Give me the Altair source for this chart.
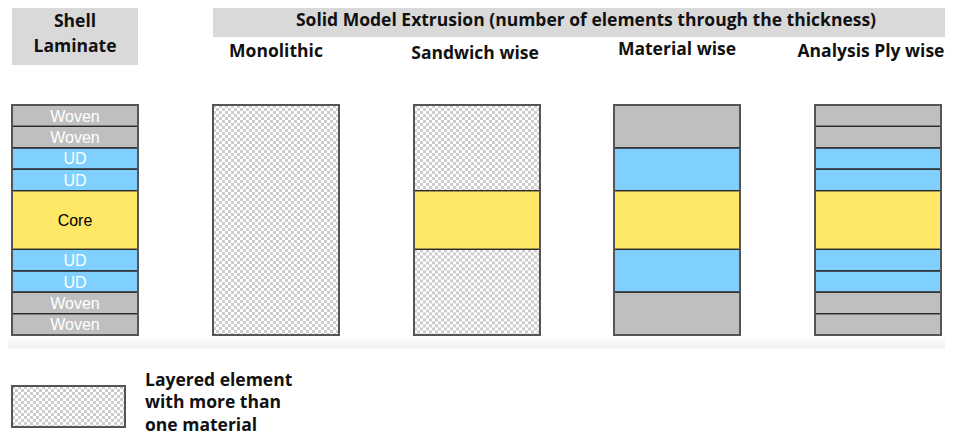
import altair as alt
import pandas as pd
import numpy as np

# ---------------- data ----------------
header_left = ["Shell", "Laminate"]
header_main = "Solid Model Extrusion (number of elements through the thickness)"
columns = ["Shell Laminate", "Monolithic", "Sandwich wise", "Material wise", "Analysis Ply wise"]
ply_names = ["Woven", "Woven", "UD", "UD", "Core", "UD", "UD", "Woven", "Woven"]
ply_thickness = [1, 1, 1, 1, 2.75, 1, 1, 1, 1]

# element groupings (number of plies per element, element material)
monolithic_groups = [9]
monolithic_materials = ["Mixed"]
sandwich_groups = [4, 1, 4]
sandwich_materials = ["Mixed", "Core", "Mixed"]
material_groups = [2, 2, 1, 2, 2]
material_materials = ["Woven", "UD", "Core", "UD", "Woven"]
analysis_groups = [1] * 9
analysis_materials = ply_names

legend_lines = ["Layered element", "with more than", "one material"]

# ---------------- layout / style ----------------
W, H = 937, 428
XD = [8, 8 + W]
YD = [8, 8 + H]
mat_color = {"Woven": "#bfbfbf", "UD": "#80d0ff", "Core": "#ffe866", "Mixed": "#ffffff"}
col_left = [12, 213, 414, 614, 815]
col_w = 126
stack_top, stack_bot = 105, 335
title_y = [None, 52, 54, 50, 52]
title_dx = [0, 0, -2, 0, -7]
font_title = "Open Sans"
fs_title = 17.5

unit = (stack_bot - stack_top) / sum(ply_thickness)
bounds = [stack_top + unit * c for c in np.concatenate([[0], np.cumsum(ply_thickness)])]

rects = []     # filled element rects with stroke
checks = []    # checker squares
def add_checker(x0, x1, y0, y1, s=3.0):
    nx = int(np.ceil((x1 - x0) / s)); ny = int(np.ceil((y1 - y0) / s))
    for i in range(nx):
        for j in range(ny):
            if (i + j) % 2 == 0:
                checks.append(dict(x=x0 + i * s, x2=min(x0 + (i + 1) * s, x1),
                                   y=y0 + j * s, y2=min(y0 + (j + 1) * s, y1)))

schemes = [
    (analysis_groups, ply_names),
    (monolithic_groups, monolithic_materials),
    (sandwich_groups, sandwich_materials),
    (material_groups, material_materials),
    (analysis_groups, analysis_materials),
]
for ci, (groups, mats) in enumerate(schemes):
    x0 = col_left[ci]; x1 = x0 + col_w
    k = 0
    for g, m in zip(groups, mats):
        y0 = bounds[k]; y1 = bounds[k + g]; k += g
        rects.append(dict(x=x0, x2=x1, y=y0, y2=y1, fill=mat_color[m]))
        if m == "Mixed":
            add_checker(x0, x1, y0, y1)

# legend box
lx0, lx1, ly0, ly1 = 12, 125, 386, 427
rects.append(dict(x=lx0, x2=lx1, y=ly0, y2=ly1, fill="#ffffff"))
add_checker(lx0, lx1, ly0, ly1)

frames = [dict(x=col_left[i], x2=col_left[i] + col_w, y=stack_top, y2=stack_bot) for i in range(5)]
frames.append(dict(x=lx0, x2=lx1, y=ly0, y2=ly1))

df_rect = pd.DataFrame(rects)
df_check = pd.DataFrame(checks)
df_frame = pd.DataFrame(frames)

xs = alt.Scale(domain=XD, nice=False, zero=False)
ys = alt.Scale(domain=YD, nice=False, zero=False, reverse=True)
X = lambda f="x": alt.X(f"{f}:Q", scale=xs, axis=None)
Y = lambda f="y": alt.Y(f"{f}:Q", scale=ys, axis=None)

band = alt.Chart(pd.DataFrame([dict(x=5, x2=950, y=336, y2=349)])).mark_rect(
    color=alt.Gradient(gradient="linear", x1=0, x2=0, y1=0, y2=1,
                       stops=[alt.GradientStop(color="#ffffff", offset=0),
                              alt.GradientStop(color="#f2f2f2", offset=0.8),
                              alt.GradientStop(color="#f7f7f7", offset=1)])
).encode(x=X(), x2="x2:Q", y=Y(), y2="y2:Q")

headers = alt.Chart(pd.DataFrame([
    dict(x=12, x2=138, y=6, y2=65),
    dict(x=213, x2=953, y=6, y2=37),
])).mark_rect(color="#d9d9d9").encode(x=X(), x2="x2:Q", y=Y(), y2="y2:Q")

fills = alt.Chart(df_rect).mark_rect().encode(
    x=X(), x2="x2:Q", y=Y(), y2="y2:Q", color=alt.Color("fill:N", scale=None))

checker = alt.Chart(df_check).mark_rect(color="#cdcdcd").encode(
    x=X(), x2="x2:Q", y=Y(), y2="y2:Q")

lines = alt.Chart(df_rect).mark_rect(fill=None, stroke="#2a2a2a", strokeWidth=1.3).encode(
    x=X(), x2="x2:Q", y=Y(), y2="y2:Q")

outer = alt.Chart(df_frame).mark_rect(fill=None, stroke="#555555", strokeWidth=2).encode(
    x=X(), x2="x2:Q", y=Y(), y2="y2:Q")

# texts
ply_txt = []
for i, name in enumerate(ply_names):
    ply_txt.append(dict(x=col_left[0] + col_w / 2, y=(bounds[i] + bounds[i + 1]) / 2 + 1, t=name))
df_ply = pd.DataFrame(ply_txt)
ply_white = alt.Chart(df_ply[df_ply.t != "Core"]).mark_text(
    font="Liberation Sans", fontSize=16, color="#ffffff", baseline="middle").encode(
    x=X(), y=Y(), text="t:N")
ply_core = alt.Chart(df_ply[df_ply.t == "Core"]).mark_text(
    font="Liberation Sans", fontSize=16, color="#000000", baseline="middle").encode(
    x=X(), y=Y(), text="t:N")

title_rows = [dict(x=75, y=22, t=header_left[0]), dict(x=75, y=47, t=header_left[1]),
              dict(x=586, y=21, t=header_main)]
for i in range(1, 5):
    title_rows.append(dict(x=col_left[i] + col_w / 2 + title_dx[i], y=title_y[i], t=columns[i]))
titles = alt.Chart(pd.DataFrame(title_rows)).mark_text(
    font=font_title, fontSize=fs_title, fontWeight="bold", color="#111111", baseline="middle").encode(
    x=X(), y=Y(), text="t:N")

leg_rows = [dict(x=145, y=385.5 + 22.5 * i, t=s) for i, s in enumerate(legend_lines)]
legend_txt = alt.Chart(pd.DataFrame(leg_rows)).mark_text(
    font=font_title, fontSize=fs_title, fontWeight="bold", color="#111111", align="left",
    baseline="alphabetic").encode(x=X(), y=Y(), text="t:N")

chart = alt.layer(band, headers, fills, checker, lines, outer, ply_white, ply_core,
                  titles, legend_txt).properties(
    width=W, height=H, padding=0, autosize=alt.AutoSizeParams(type="none")
).configure_view(strokeWidth=0)

chart.save("out.html", embed_options={"renderer": "svg", "actions": False})
